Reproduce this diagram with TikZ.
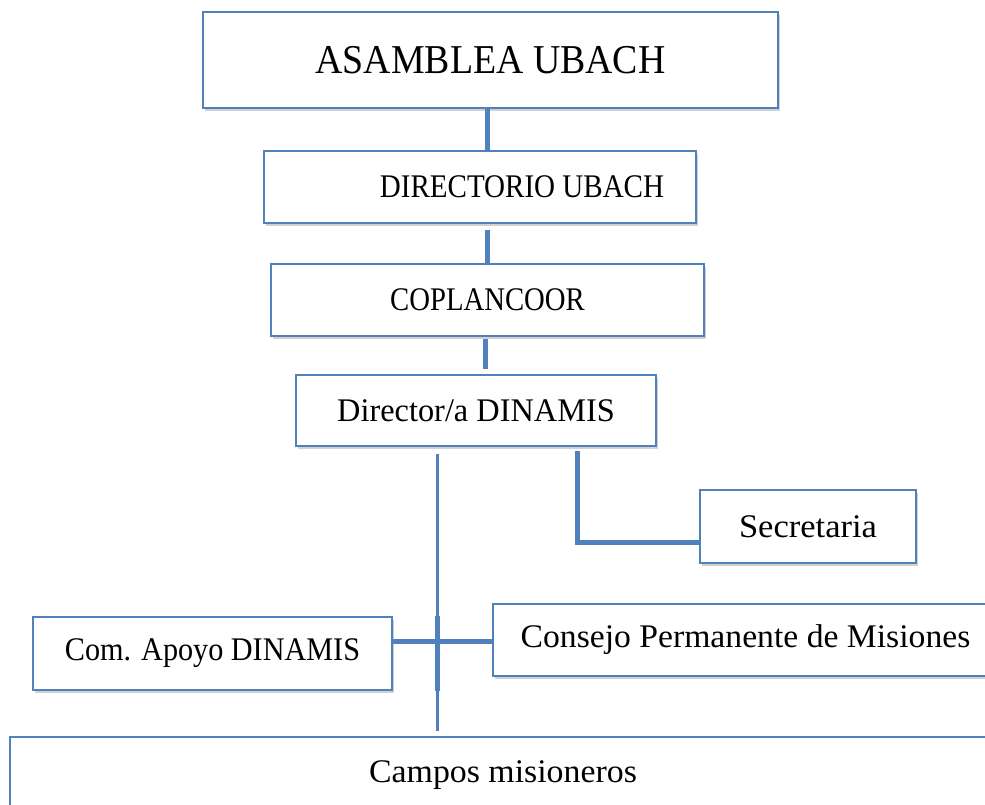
\documentclass[tikz,border=0pt]{standalone}
\usepackage{fontspec}
\usepackage{graphicx}
\setmainfont{Liberation Serif}
\usetikzlibrary{shadows}
\definecolor{boxblue}{RGB}{79,129,189}
\tikzset{
  orgbox/.style={draw=boxblue, line width=1.8pt, fill=white, rectangle, inner sep=0pt,
    font=\fontsize{33}{40}\selectfont,
    drop shadow={shadow xshift=2pt, shadow yshift=-3pt, opacity=0.18, fill=black}},
  conn/.style={draw=boxblue, line width=5pt},
  thinconn/.style={draw=boxblue, line width=3pt}
}
\newcommand{\hs}[2]{\scalebox{#1}[1]{#2}}
\begin{document}
\begin{tikzpicture}[x=1pt,y=-1pt]
\useasboundingbox (0,0) rectangle (985,805);
\clip (0,0) rectangle (985,805);
\fill[white] (0,0) rectangle (985,805);
\node[orgbox, minimum width=575pt, minimum height=96pt, font=\fontsize{41}{48}\selectfont] (asm) at (490.5,60) {\hs{0.923}{ASAMBLEA UBACH}};
\node[orgbox, minimum width=432pt, minimum height=72pt] (dir) at (480,187) {\hspace*{84pt}\hs{0.88}{DIRECTORIO UBACH}};
\node[orgbox, minimum width=433pt, minimum height=72pt] (cop) at (487.5,300) {\hs{0.87}{COPLANCOOR}};
\node[orgbox, minimum width=360pt, minimum height=71pt] (din) at (476,410.5) {\hs{0.98}{Director/a DINAMIS}};
\node[orgbox, minimum width=216pt, minimum height=73pt] (sec) at (808,526.5) {\hs{1.046}{Secretaria}};
\node[orgbox, minimum width=359pt, minimum height=73pt] (com) at (212.5,653.5) {\hs{0.915}{Com. Apoyo DINAMIS}};
\node[orgbox, minimum width=505pt, minimum height=72pt] (cons) at (745.5,640) {\hs{1.02}{Consejo Permanente de Misiones}};
\node[orgbox, minimum width=986pt, minimum height=76pt] (camp) at (503,775) {\hs{1.025}{Campos misioneros}};
% vertical chain
\draw[conn] ([xshift=-3.5pt]asm.south) -- ([xshift=-3.5pt]asm.south |- dir.north);
\draw[conn] ([xshift=7pt,yshift=-6pt]dir.south) -- ([xshift=7pt]dir.south |- cop.north);
\draw[conn] ([xshift=-2.5pt,yshift=-2pt]cop.south) -- ([xshift=-2.5pt,yshift=5pt]cop.south |- din.north);
% main trunk
\coordinate (trunktop) at ([xshift=-39pt,yshift=-7pt]din.south);
\draw[thinconn] (trunktop) -- ([yshift=5pt]trunktop |- camp.north);
\draw[conn] (trunktop |- com.north) -- (trunktop |- com.south);
\draw[conn] ([yshift=12.5pt]com.east) -- ([yshift=12.5pt]com.east -| cons.west);
% secretaria branch
\coordinate (sectop) at ([xshift=101pt,yshift=-4pt]din.south);
\draw[conn] (sectop) |- ([yshift=-16pt]sec.west);
\end{tikzpicture}
\end{document}
